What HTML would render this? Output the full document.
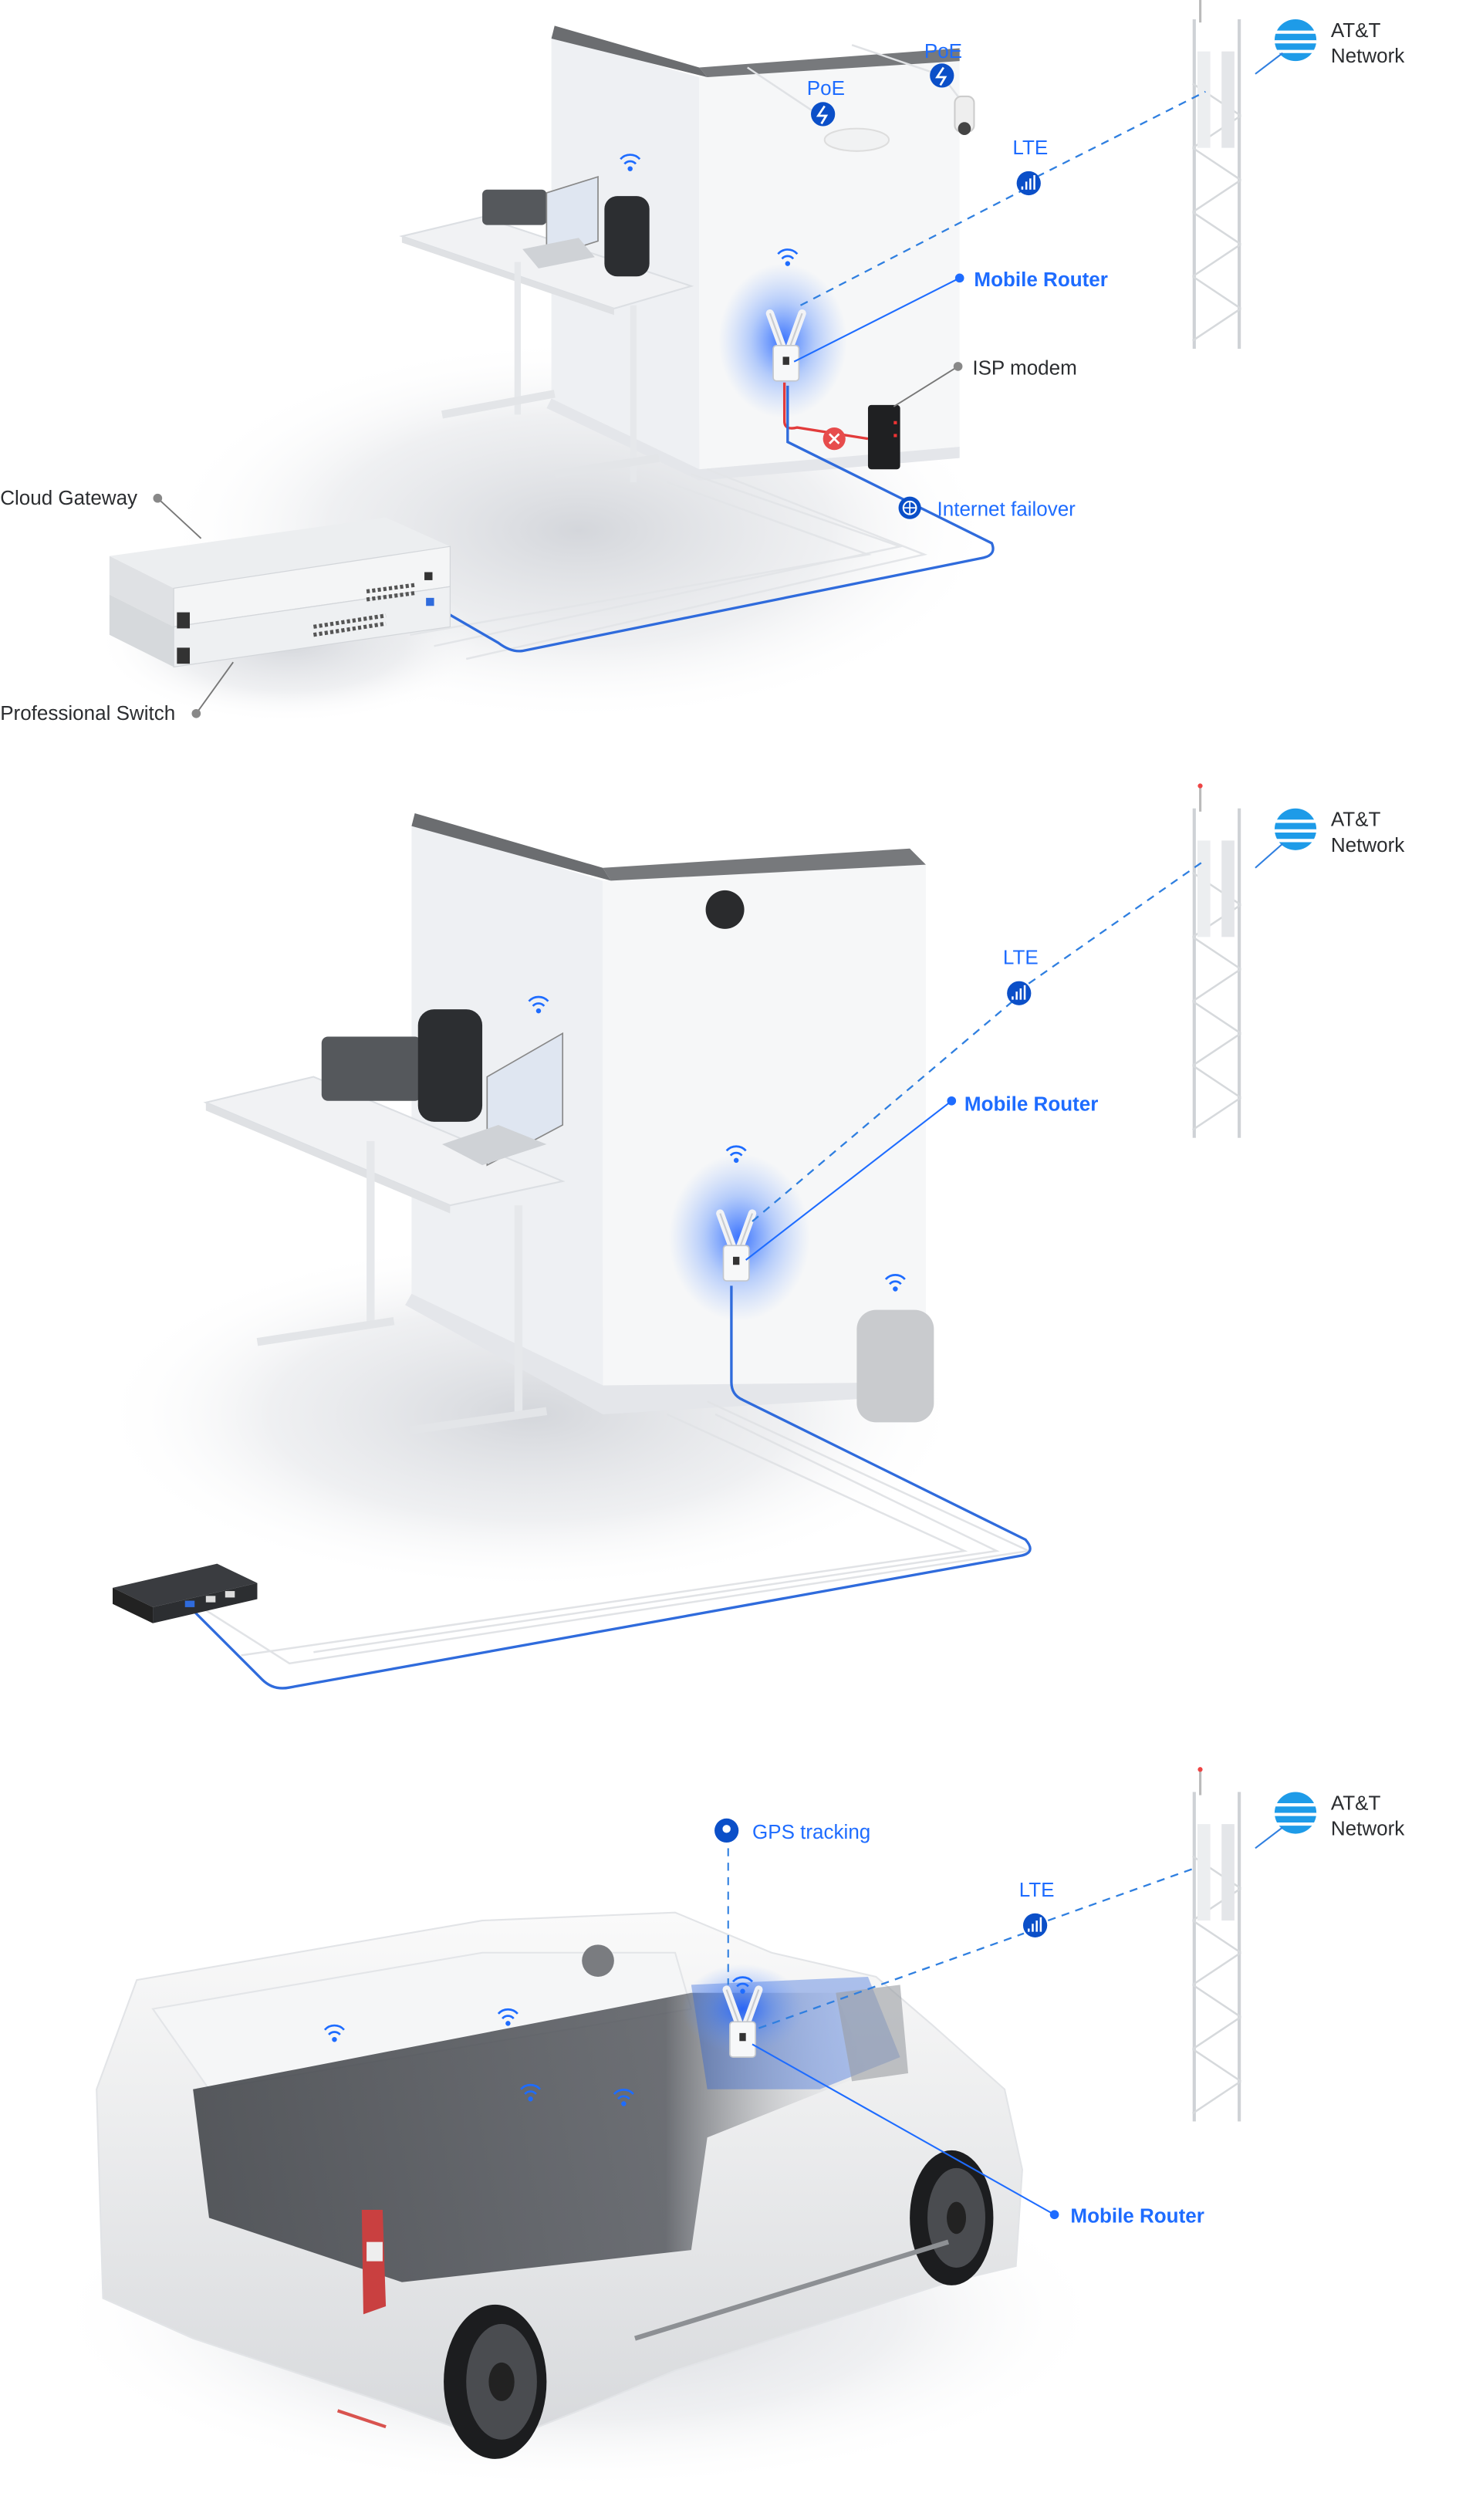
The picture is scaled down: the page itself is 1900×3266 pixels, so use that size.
<!DOCTYPE html>
<html><head><meta charset="utf-8"><style>
html,body{margin:0;padding:0;background:#fff;}
svg{display:block;}
text{font-family:"Liberation Sans",sans-serif;}
</style></head><body>
<svg width="1900" height="3266" viewBox="0 0 912 1568" xmlns="http://www.w3.org/2000/svg">
<defs>
<radialGradient id="glow"><stop offset="0" stop-color="#1a5cff" stop-opacity="0.85"/><stop offset="0.5" stop-color="#3b7bff" stop-opacity="0.35"/><stop offset="1" stop-color="#6a9cff" stop-opacity="0"/></radialGradient>
<radialGradient id="shadow"><stop offset="0" stop-color="#c9ccd2" stop-opacity="0.8"/><stop offset="0.6" stop-color="#dfe1e5" stop-opacity="0.5"/><stop offset="1" stop-color="#fff" stop-opacity="0"/></radialGradient>
<linearGradient id="interior" x1="0" x2="1"><stop offset="0" stop-color="#3a3d42"/><stop offset="0.7" stop-color="#55585e"/><stop offset="1" stop-color="#d8dadd" stop-opacity="0"/></linearGradient>
<linearGradient id="vanfade" x1="0" y1="0" x2="0" y2="1"><stop offset="0" stop-color="#fafafa"/><stop offset="1" stop-color="#d7d9dc"/></linearGradient>
<g id="tower">
<rect x="0" y="0" width="2" height="205" fill="#cfd2d6"/>
<rect x="28" y="0" width="2" height="205" fill="#cfd2d6"/>
<path d="M0 40 L30 60 M30 60 L0 80 M0 80 L30 100 M30 100 L0 120 M0 120 L30 140 M30 140 L0 160 M0 160 L30 180 M30 180 L0 200" stroke="#d6d9dc" stroke-width="1.2" fill="none"/>
<rect x="3" y="20" width="8" height="60" fill="#eceef0"/><rect x="18" y="20" width="8" height="60" fill="#e4e6e9"/>
<rect x="4" y="-14" width="1.5" height="16" fill="#bbb"/><circle cx="4.7" cy="-14" r="1.5" fill="#e44"/>
</g>
<g id="att"><circle r="13" fill="#1e9be8"/><path d="M-13 -5 H13 M-13 1 H13 M-12 7 H12" stroke="#fff" stroke-width="2"/></g>
<g id="router">
<path d="M-10 -30 L-2 -8 M10 -30 L2 -8" stroke="#f2f3f5" stroke-width="5" stroke-linecap="round"/>
<path d="M-10 -30 L-2 -8 M10 -30 L2 -8" stroke="#c8cbd0" stroke-width="1" fill="none"/>
<rect x="-8" y="-10" width="16" height="22" rx="2" fill="#f7f8f9" stroke="#c4c7cc" stroke-width="0.8"/>
<rect x="-2" y="-3" width="4" height="5" fill="#333"/>
</g>
<g id="wifi" fill="none" stroke="#1e6cff" stroke-width="1.3"><path d="M-6 -2 A8 8 0 0 1 6 -2"/><path d="M-3.5 1 A4.5 4.5 0 0 1 3.5 1"/><circle cx="0" cy="4" r="0.9" fill="#1e6cff"/></g>
<g id="bubble"><circle r="7.5" fill="#0b4fc8"/></g>
</defs>

<rect width="912" height="1568" fill="#fff"/>

<!-- ===== PANEL 1 ===== -->
<ellipse cx="360" cy="330" rx="260" ry="120" fill="url(#shadow)"/>
<ellipse cx="180" cy="400" rx="120" ry="50" fill="url(#shadow)"/>
<!-- wall -->
<polygon points="343,22 435,48 435,292 343,248" fill="#eef0f3"/>
<polygon points="435,48 597,38 597,278 435,292" fill="#f6f7f8"/>
<polygon points="345,16 435,42 440,48 343,24" fill="#6b6d70"/>
<polygon points="435,42 597,30 597,38 440,48" fill="#77797c"/>
<polygon points="343,248 435,292 597,278 597,285 435,299 340,254" fill="#e4e6ea"/>
<!-- desk -->
<polygon points="250,147 300,135 430,178 382,192" fill="#f1f2f4" stroke="#dcdfe3" stroke-width="1"/>
<polygon points="250,147 382,192 382,196 250,151" fill="#dfe1e4"/>
<rect x="320" y="163" width="4" height="95" fill="#e6e8eb"/>
<rect x="392" y="190" width="4" height="110" fill="#e6e8eb"/>
<path d="M275 258 L345 245 M345 295 L410 285" stroke="#e3e5e8" stroke-width="5"/>
<rect x="300" y="118" width="40" height="22" rx="3" fill="#55585c"/>
<polygon points="340,120 372,110 372,150 340,160" fill="#dfe6f1" stroke="#888" stroke-width="0.8"/>
<polygon points="325,155 360,148 370,160 335,167" fill="#cfd2d6"/>
<rect x="376" y="122" width="28" height="50" rx="8" fill="#2c2e31"/>
<use href="#wifi" x="392" y="101"/>
<use href="#wifi" x="490" y="160"/>
<!-- poe devices -->
<ellipse cx="533" cy="87" rx="20" ry="7" fill="#f1f2f3" stroke="#ddd"/>
<rect x="594" y="60" width="12" height="22" rx="4" fill="#eee" stroke="#ccc"/><circle cx="600" cy="80" r="4" fill="#444"/>
<path d="M465 42 L510 72 M530 28 L586 47 L596 60" stroke="#e0e2e5" stroke-width="1.2" fill="none"/>
<!-- glow + router -->
<ellipse cx="487" cy="212" rx="40" ry="48" fill="url(#glow)"/>
<use href="#router" x="489" y="225"/>
<!-- cables -->
<path d="M488 238 L488 262 Q488 268 496 266 L540 273" stroke="#e23b3b" stroke-width="1.6" fill="none"/>
<circle cx="519" cy="273" r="7" fill="#e74c4c"/><path d="M516 270 L522 276 M522 270 L516 276" stroke="#fff" stroke-width="1.3"/>
<rect x="540" y="252" width="20" height="40" rx="2" fill="#1f2022"/><rect x="556" y="262" width="2" height="2" fill="#e33"/><rect x="556" y="270" width="2" height="2" fill="#e33"/>
<path d="M430 295 L560 340 L270 402 M440 292 L575 345 L290 410 M415 300 L540 345 L255 395" stroke="#e3e5e8" stroke-width="1.2" fill="none"/>
<path d="M490 240 L490 275 L617 338 Q620 345 612 347 L325 405 Q318 406 310 400 L272 378" stroke="#2f6bdc" stroke-width="1.6" fill="none"/>
<!-- gateway/switch -->
<polygon points="68,346 240,322 280,340 108,366" fill="#eceef0"/>
<polygon points="68,346 108,366 108,390 68,370" fill="#dfe1e4"/>
<polygon points="108,366 280,340 280,365 108,390" fill="#f4f5f6" stroke="#d3d6da" stroke-width="0.6"/>
<polygon points="68,370 108,390 108,415 68,395" fill="#d6d9dc"/>
<polygon points="108,390 280,365 280,390 108,415" fill="#eef0f2" stroke="#d3d6da" stroke-width="0.6"/>
<rect x="110" y="381" width="8" height="10" fill="#333"/><rect x="110" y="403" width="8" height="10" fill="#333"/>
<path d="M195 390 L240 383 M195 395 L240 388" stroke="#555" stroke-width="2.5" stroke-dasharray="2 1.5"/>
<path d="M228 368 L258 364 M228 373 L258 369" stroke="#555" stroke-width="2.5" stroke-dasharray="2 1.5"/>
<rect x="264" y="356" width="5" height="5" fill="#333"/><rect x="265" y="372" width="5" height="5" fill="#2f6bdc"/>
<!-- tower 1 -->
<use href="#tower" x="742" y="12"/>
<use href="#att" x="806" y="25"/>
<path d="M781 46 L798 33" stroke="#2f7fe0" stroke-width="1"/>
<text x="828" y="23" font-size="12.5" fill="#2b2d30">AT&amp;T</text>
<text x="828" y="39" font-size="12.5" fill="#2b2d30">Network</text>
<!-- LTE dashed -->
<path d="M498 190 L637 118 M645 110 L750 57" stroke="#2f7fe0" stroke-width="1.1" stroke-dasharray="5 4" fill="none"/>
<text x="630" y="96" font-size="12.5" fill="#1e6cff">LTE</text>
<use href="#bubble" x="640" y="114"/><path d="M636 118 V116 M638.5 118 V113 M641 118 V111 M643.5 118 V109" stroke="#fff" stroke-width="1.2"/>
<text x="502" y="59" font-size="12.5" fill="#1e6cff">PoE</text>
<use href="#bubble" x="512" y="71"/><path d="M513 66 L509 72 H514 L511 77" stroke="#fff" stroke-width="1.3" fill="none"/>
<text x="575" y="36" font-size="12.5" fill="#1e6cff">PoE</text>
<use href="#bubble" x="586" y="47"/><path d="M587 42 L583 48 H588 L585 53" stroke="#fff" stroke-width="1.3" fill="none"/>
<!-- callouts -->
<path d="M494 225 L597 173" stroke="#1e6cff" stroke-width="1"/><circle cx="597" cy="173" r="2.8" fill="#1e6cff"/>
<text x="606" y="178" font-size="12.5" font-weight="bold" fill="#1e6cff">Mobile Router</text>
<path d="M556 253 L596 228" stroke="#777" stroke-width="0.9"/><circle cx="596" cy="228" r="2.8" fill="#888"/>
<text x="605" y="233" font-size="12.5" fill="#2b2d30">ISP modem</text>
<circle cx="566" cy="316" r="7" fill="#0b4fc8"/><circle cx="566" cy="316" r="4" fill="none" stroke="#fff" stroke-width="1"/><path d="M562 316 H570 M566 312 V320" stroke="#fff" stroke-width="0.8"/>
<text x="583" y="321" font-size="12.5" fill="#1e6cff">Internet failover</text>
<path d="M98 310 L125 335" stroke="#777" stroke-width="0.9"/><circle cx="98" cy="310" r="2.8" fill="#888"/>
<text x="0" y="314" font-size="12.5" fill="#2b2d30">Cloud Gateway</text>
<path d="M122 444 L145 412" stroke="#777" stroke-width="0.9"/><circle cx="122" cy="444" r="2.8" fill="#888"/>
<text x="0" y="448" font-size="12.5" fill="#2b2d30">Professional Switch</text>

<!-- ===== PANEL 2 ===== -->
<ellipse cx="330" cy="880" rx="270" ry="110" fill="url(#shadow)"/>
<polygon points="256,512 375,548 375,862 256,805" fill="#eef0f3"/>
<polygon points="375,548 576,538 576,860 375,872" fill="#f6f7f8"/>
<polygon points="258,506 375,540 380,548 256,514" fill="#6b6d70"/>
<polygon points="375,540 566,528 576,538 380,548" fill="#77797c"/>
<polygon points="256,805 375,862 576,860 576,868 375,880 252,812" fill="#e4e6ea"/>
<circle cx="451" cy="566" r="12" fill="#2a2b2d"/>
<!-- desk 2 -->
<polygon points="128,686 195,670 350,735 280,750" fill="#f1f2f4" stroke="#dcdfe3"/>
<polygon points="128,686 280,750 280,755 128,691" fill="#dfe1e4"/>
<rect x="228" y="710" width="5" height="115" fill="#e6e8eb"/>
<rect x="320" y="750" width="5" height="130" fill="#e6e8eb"/>
<path d="M160 835 L245 822 M255 890 L340 878" stroke="#e3e5e8" stroke-width="5"/>
<rect x="200" y="645" width="62" height="40" rx="4" fill="#55585c"/>
<rect x="260" y="628" width="40" height="70" rx="10" fill="#2c2e31"/>
<polygon points="303,670 350,643 350,700 303,725" fill="#dfe6f1" stroke="#888" stroke-width="0.8"/>
<polygon points="275,712 310,700 340,712 300,725" fill="#cfd2d6"/>
<use href="#wifi" x="335" y="625"/>
<use href="#wifi" x="458" y="718"/>
<use href="#wifi" x="557" y="798"/>
<rect x="533" y="815" width="48" height="70" rx="12" fill="#c9cbce"/>
<ellipse cx="460" cy="770" rx="44" ry="52" fill="url(#glow)"/>
<use href="#router" x="458" y="785"/>
<path d="M440 872 L640 965 L180 1035 L125 1000 M445 880 L620 965 L195 1028 M415 880 L600 965 L150 1030" stroke="#e1e3e6" stroke-width="1.2" fill="none"/>
<path d="M455 800 L455 860 Q455 868 462 871 L638 958 Q645 966 635 968 L180 1050 Q170 1052 163 1045 L118 1000" stroke="#2f6bdc" stroke-width="1.6" fill="none"/>
<polygon points="70,988 135,973 160,985 95,1000" fill="#3a3c40"/>
<polygon points="70,988 95,1000 95,1010 70,998" fill="#222"/>
<polygon points="95,1000 160,985 160,995 95,1010" fill="#2c2e31"/>
<rect x="115" y="996" width="6" height="4" fill="#2f6bdc"/><rect x="128" y="993" width="6" height="4" fill="#ddd"/><rect x="140" y="990" width="6" height="4" fill="#ddd"/>
<use href="#tower" x="742" y="503"/>
<use href="#att" x="806" y="516"/>
<path d="M781 540 L798 525" stroke="#2f7fe0" stroke-width="1"/>
<text x="828" y="514" font-size="12.5" fill="#2b2d30">AT&amp;T</text>
<text x="828" y="530" font-size="12.5" fill="#2b2d30">Network</text>
<path d="M468 760 L630 623 M640 612 L750 535" stroke="#2f7fe0" stroke-width="1.1" stroke-dasharray="5 4" fill="none"/>
<text x="624" y="600" font-size="12.5" fill="#1e6cff">LTE</text>
<use href="#bubble" x="634" y="618"/><path d="M630 622 V620 M632.5 622 V617 M635 622 V615 M637.5 622 V613" stroke="#fff" stroke-width="1.2"/>
<path d="M464 784 L592 685" stroke="#1e6cff" stroke-width="1"/><circle cx="592" cy="685" r="2.8" fill="#1e6cff"/>
<text x="600" y="691" font-size="12.5" font-weight="bold" fill="#1e6cff">Mobile Router</text>

<!-- ===== PANEL 3 ===== -->
<ellipse cx="360" cy="1440" rx="330" ry="110" fill="url(#shadow)"/>
<polygon points="85,1232 300,1195 420,1190 480,1215 545,1230 580,1260 625,1300 636,1350 632,1410 590,1420 420,1475 360,1500 310,1520 240,1495 120,1455 64,1430 60,1300" fill="url(#vanfade)" stroke="#e2e4e7" stroke-width="1"/>
<polygon points="95,1250 300,1215 420,1215 430,1250 130,1300" fill="#f5f6f7" stroke="#e3e5e8"/>
<polygon points="120,1300 430,1240 520,1240 540,1290 440,1330 430,1400 250,1420 130,1380" fill="url(#interior)" opacity="0.85"/>
<polygon points="430,1235 540,1230 560,1280 510,1300 440,1300" fill="#1f5ad8" opacity="0.35"/>
<path d="M520 1240 L560 1235 L565 1290 L530 1295 Z" fill="#9a9da2" opacity="0.6"/>
<circle cx="372" cy="1220" r="10" fill="#7a7c80"/>
<path d="M225 1375 L238 1375 L240 1435 L226 1440 Z" fill="#c94040"/><rect x="228" y="1395" width="10" height="12" fill="#eee"/>
<path d="M210 1500 L240 1510" stroke="#d9534f" stroke-width="2"/>
<ellipse cx="308" cy="1482" rx="32" ry="48" fill="#1c1d1f"/><ellipse cx="312" cy="1482" rx="22" ry="36" fill="#4a4c50"/><ellipse cx="312" cy="1482" rx="8" ry="12" fill="#222"/>
<ellipse cx="592" cy="1380" rx="26" ry="42" fill="#1c1d1f"/><ellipse cx="595" cy="1380" rx="18" ry="31" fill="#4a4c50"/><ellipse cx="595" cy="1380" rx="6" ry="10" fill="#222"/>
<path d="M395 1455 L590 1395" stroke="#8d9094" stroke-width="3"/>
<use href="#wifi" x="208" y="1265"/><use href="#wifi" x="316" y="1255"/><use href="#wifi" x="330" y="1302"/><use href="#wifi" x="388" y="1305"/>
<ellipse cx="462" cy="1250" rx="38" ry="28" fill="url(#glow)"/>
<use href="#wifi" x="462" y="1235"/>
<use href="#router" x="462" y="1268"/>
<path d="M453 1150 V1235" stroke="#2f7fe0" stroke-width="1" stroke-dasharray="5 4"/>
<circle cx="452" cy="1139" r="7.5" fill="#0b4fc8"/><circle cx="452" cy="1138" r="2.5" fill="#fff"/>
<text x="468" y="1144" font-size="12.5" fill="#1e6cff">GPS tracking</text>
<path d="M472 1262 L637 1203 M652 1195 L750 1160" stroke="#2f7fe0" stroke-width="1.1" stroke-dasharray="5 4" fill="none"/>
<text x="634" y="1180" font-size="12.5" fill="#1e6cff">LTE</text>
<use href="#bubble" x="644" y="1198"/><path d="M640 1202 V1200 M642.5 1202 V1197 M645 1202 V1195 M647.5 1202 V1193" stroke="#fff" stroke-width="1.2"/>
<path d="M468 1272 L656 1378" stroke="#1e6cff" stroke-width="1"/><circle cx="656" cy="1378" r="2.8" fill="#1e6cff"/>
<text x="666" y="1383" font-size="12.5" font-weight="bold" fill="#1e6cff">Mobile Router</text>
<use href="#tower" x="742" y="1115"/>
<use href="#att" x="806" y="1128"/>
<path d="M781 1150 L798 1137" stroke="#2f7fe0" stroke-width="1"/>
<text x="828" y="1126" font-size="12.5" fill="#2b2d30">AT&amp;T</text>
<text x="828" y="1142" font-size="12.5" fill="#2b2d30">Network</text>
</svg>
</body></html>
